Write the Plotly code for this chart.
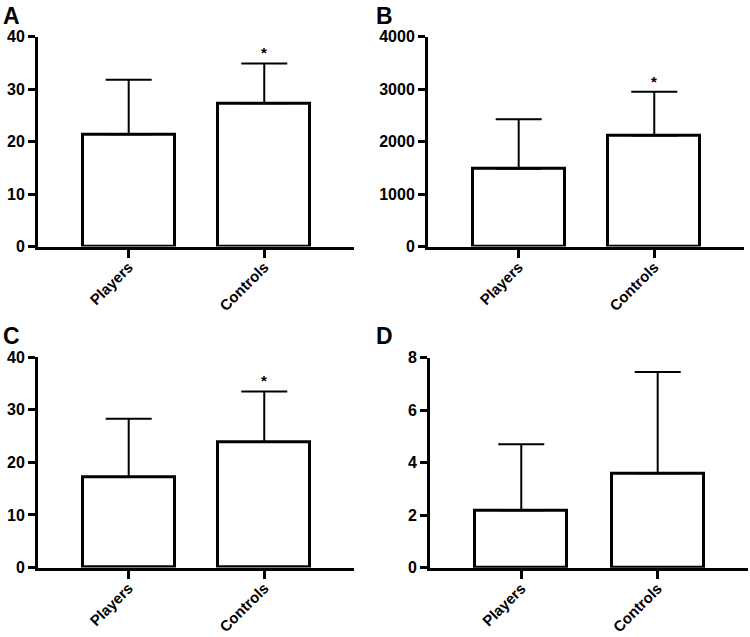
import plotly.graph_objects as go

categories = ["Players", "Controls"]

a_means = [21.4, 27.3]
a_err = [10.4, 7.6]
b_means = [1484, 2117]
b_err = [943, 834]
c_means = [17.2, 23.9]
c_err = [11.1, 9.6]
d_means = [2.19, 3.60]
d_err = [2.51, 3.86]

a_ticks = [0, 10, 20, 30, 40]
b_ticks = [0, 1000, 2000, 3000, 4000]
c_ticks = [0, 10, 20, 30, 40]
d_ticks = [0, 2, 4, 6, 8]

panel_letters = ["A", "B", "C", "D"]
significant = [[False, True], [False, True], [False, True], [False, False]]

panels = [
    (a_means, a_err, a_ticks, [0, 40]),
    (b_means, b_err, b_ticks, [0, 4000]),
    (c_means, c_err, c_ticks, [0, 40]),
    (d_means, d_err, d_ticks, [0, 8]),
]

W, H = 750, 637
xdoms = [[38 / W, 354 / W], [428 / W, 744 / W], [38 / W, 354 / W], [430 / W, 748 / W]]
ydoms = [[(H - 246.5) / H, (H - 36.7) / H], [(H - 246.5) / H, (H - 36.7) / H],
         [(H - 567.5) / H, (H - 357.3) / H], [(H - 567.8) / H, (H - 357.7) / H]]
letter_pos = [(1, 1), (374, 1), (1, 321), (374, 321)]

FONT = "Arial, Liberation Sans, sans-serif"

fig = go.Figure()
annotations = []
layout = {}
for i, (means, err, ticks, rng) in enumerate(panels):
    n = i + 1
    xa = "x" if n == 1 else f"x{n}"
    ya = "y" if n == 1 else f"y{n}"
    fig.add_trace(go.Bar(
        x=categories, y=means, xaxis=xa, yaxis=ya,
        width=0.676,
        marker=dict(color="white", line=dict(color="black", width=3)),
        error_y=dict(type="data", array=err, arrayminus=[0] * len(err), symmetric=False,
                     color="black", thickness=2, width=23),
        showlegend=False,
    ))
    xkey = "xaxis" if n == 1 else f"xaxis{n}"
    ykey = "yaxis" if n == 1 else f"yaxis{n}"
    layout[xkey] = dict(
        domain=xdoms[i], anchor=ya, range=[-0.669, 1.662], type="category",
        showline=True, linewidth=3, linecolor="black", ticks="outside",
        ticklen=8, tickwidth=3, tickcolor="black", tickangle=-45,
        ticklabelstandoff=-5,
        tickfont=dict(family=FONT, size=15, color="black", weight="bold"),
        showgrid=False, zeroline=False, fixedrange=True, automargin=False,
    )
    layout[ykey] = dict(
        domain=ydoms[i], anchor=xa, range=rng, tickvals=ticks,
        showline=True, linewidth=3, linecolor="black", ticks="outside",
        ticklen=7, tickwidth=3, tickcolor="black",
        tickfont=dict(family=FONT, size=16, color="black", weight="bold"),
        showgrid=False, zeroline=False, fixedrange=True, automargin=False,
    )
    for j, cat in enumerate(categories):
        if significant[i][j]:
            annotations.append(dict(
                x=cat, y=means[j] + err[j], xref=xa, yref=ya, text="*",
                showarrow=False, yanchor="bottom", yshift=0,
                font=dict(family=FONT, size=15, color="black", weight="bold"),
            ))
    lx, ly = letter_pos[i]
    annotations.append(dict(
        x=lx / W, y=1 - ly / H, xref="paper", yref="paper", text=panel_letters[i],
        showarrow=False, xanchor="left", yanchor="top",
        font=dict(family=FONT, size=23, color="black", weight="bold"),
    ))

fig.update_layout(
    width=W, height=H, margin=dict(l=0, r=0, t=0, b=0),
    paper_bgcolor="white", plot_bgcolor="white",
    annotations=annotations, bargap=0, **layout,
)

fig.write_html(
    "out.html",
    config={"displayModeBar": False},
    post_script="document.body.style.margin='0';document.body.style.overflow='hidden';",
)
